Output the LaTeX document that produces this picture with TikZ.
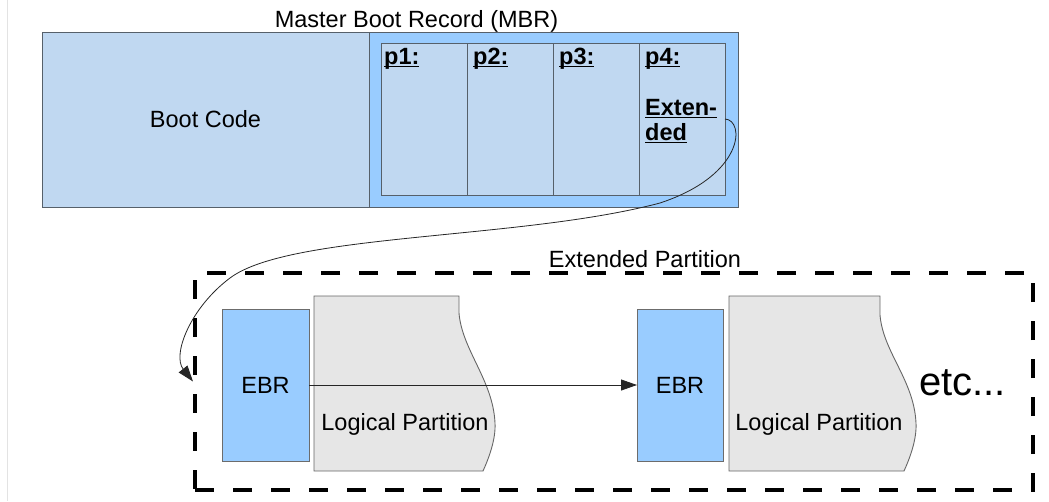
\documentclass[tikz,border=0pt]{standalone}
\usepackage{fontspec}
\setmainfont{Liberation Sans}
\usetikzlibrary{arrows.meta}

\definecolor{paleblue}{HTML}{C0D8F1}
\definecolor{skyblue}{HTML}{99CCFF}
\definecolor{lpgray}{HTML}{E6E6E6}
\definecolor{edge}{HTML}{56606A}

\newcommand\txtfont{\fontsize{23.5}{28}\selectfont}
% underlined label, the rule runs under the whole word
\newcommand\ulpart[1]{\setbox0=\hbox{#1}\rlap{\raisebox{-3.2pt}{\rule{\wd0}{1.7pt}}}\box0}

\begin{document}
\begin{tikzpicture}[x=1pt,y=-1pt,
  box/.style={draw=edge, line width=1pt, inner sep=0pt, outer sep=0pt},
  cell/.style={box, fill=paleblue, minimum width=86pt, minimum height=152pt},
  ebrbox/.style={draw=gray!85!black, line width=1pt, fill=skyblue, minimum width=87pt,
    minimum height=152pt, inner sep=0pt, outer sep=0pt, font=\txtfont},
  lbl/.style={inner sep=0pt, font=\txtfont},
  plab/.style={inner sep=0pt, anchor=base west, font=\txtfont\bfseries},
  lpshape/.style={draw=gray!80!black, line width=0.9pt, fill=lpgray},
  link/.style={draw=black!85, line width=0.8pt},
  tip/.style={-{Triangle[length=16pt,width=11pt]}}]

\useasboundingbox (0,0) rectangle (1049,501);
\draw[gray!22, line width=1pt] (7.5,0) -- (7.5,501);

% Master Boot Record
\node[lbl, anchor=base] (mbrtitle) at (416.5,27) {Master Boot Record (MBR)};
\node[box, fill=paleblue, minimum width=327pt, minimum height=175pt, font=\txtfont]
  (boot) at (205.5,119.5) {Boot Code};
\node[box, fill=skyblue, minimum width=369pt, minimum height=175pt] (mbr) at (553.5,119.5) {};
\node[cell] (c1) at (424,119) {};
\node[cell] (c2) at (510,119) {};
\node[cell] (c3) at (596,119) {};
\node[cell] (c4) at (682,119) {};
\node[plab] (t1) at (384,64) {\ulpart{p1:}};
\node[plab] (t2) at (473,64) {\ulpart{p2:}};
\node[plab] (t3) at (559,64) {\ulpart{p3:}};
\node[plab] (t4) at (645,64) {\ulpart{p4:}};
\node[plab] (t4b) at (645,115) {\ulpart{Exten-}};
\node[plab] (t4c) at (645,140) {\ulpart{ded}};

% Extended partition
\node[draw=black, line width=3.2pt, dash pattern=on 19pt off 19pt, minimum width=838pt,
  minimum height=217pt, inner sep=0pt, outer sep=0pt] (ext) at (614,381.5) {};
\node[lbl, anchor=base] (exttitle) at (645,267) {Extended Partition};

\draw[lpshape] (314,296) -- (459,296) -- (459,313)
  .. controls (462,350) and (493,380) .. (495,423)
  .. controls (496,440) and (488,460) .. (483,471) -- (314,471) -- cycle;
\draw[lpshape] (729,296) -- (880,296) -- (880,315)
  .. controls (883,352) and (914,380) .. (916,423)
  .. controls (917,440) and (909,460) .. (904,471) -- (729,471) -- cycle;
\node[lbl, anchor=base] (lp1) at (405,430) {Logical Partition};
\node[lbl, anchor=base] (lp2) at (819,430) {Logical Partition};

\node[ebrbox] (ebr1) at (265.5,385) {EBR};
\node[ebrbox, minimum width=86pt] (ebr2) at (680,385) {EBR};
\node[inner sep=0pt, anchor=base west, font=\fontsize{40}{44}\selectfont] (etc) at (919,395) {etc...};

% links
\draw[link, tip] (ebr1) -- (ebr2);
\coordinate (cstart) at (725,119);
\draw[link, tip] (cstart) .. controls (745,120) and (745,175) .. (660,203)
  .. controls (520,240) and (290,233) .. (230,278)
  .. controls (190,308) and (172,355) .. ([xshift=-2pt]ext.west);
\end{tikzpicture}
\end{document}
